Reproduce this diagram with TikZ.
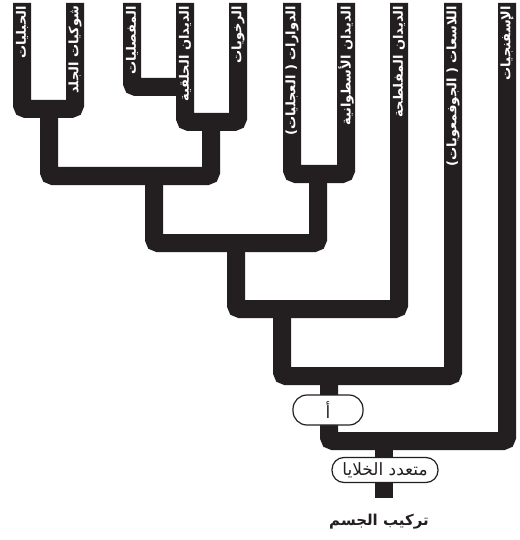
\documentclass[tikz,border=0pt]{standalone}
\usepackage{fontspec}
\usepackage{xcolor}
\usepackage{tikz}
\newfontfamily\arabicfont[Script=Arabic]{DejaVu Sans}
\TeXXeTstate=1
\definecolor{inkdark}{RGB}{35,31,32}

\begin{document}
\begin{tikzpicture}[x=1pt,y=-1pt,
  branch/.style={draw=inkdark,line width=18pt,rounded corners=4pt},
  taxon/.style={inner sep=0pt,outer sep=0pt,anchor=east,rotate=90,text=white,font=\arabicfont\bfseries\fontsize{13}{14}\selectfont},
  trait/.style={draw=inkdark,fill=white,line width=1.2pt,inner sep=0pt,text=inkdark,font=\arabicfont\fontsize{17}{18}\selectfont},
  caption/.style={inner sep=0pt,text=inkdark,font=\arabicfont\bfseries\fontsize{15}{16}\selectfont}]
\path[use as bounding box] (0,0) rectangle (519,540);
\path[fill=white,draw=none] (0,0) rectangle (519,540);
\coordinate (chordata) at (22,3);
\coordinate (echino) at (75,3);
\coordinate (arthro) at (132,3);
\coordinate (annelid) at (185,3);
\coordinate (mollusc) at (238,3);
\coordinate (rotifer) at (292,3);
\coordinate (nematode) at (346,3);
\coordinate (flatworm) at (399,3);
\coordinate (cnidaria) at (453,3);
\coordinate (sponge) at (507,3);
\coordinate (jDeut) at (49,109);
\coordinate (jArthro) at (185,87);
\coordinate (jProto) at (211,122);
\coordinate (jCoel) at (154,176);
\coordinate (jPseudo) at (318,174);
\coordinate (jCavity) at (236,243);
\coordinate (jBilat) at (282,309);
\coordinate (jTissue) at (329,376);
\coordinate (jMulti) at (384,441);
\coordinate (root) at (384,498);
\draw[branch] (chordata) |- (jDeut) -| (echino);
\draw[branch] (arthro) |- (jArthro);
\draw[branch] (annelid) |- (jProto) -| (mollusc);
\draw[branch] (jDeut) |- (jCoel) -| (jProto);
\draw[branch] (rotifer) |- (jPseudo) -| (nematode);
\draw[branch] (jCoel) |- (jCavity) -| (jPseudo);
\draw[branch] (jCavity) |- (jBilat) -| (flatworm);
\draw[branch] (jBilat) |- (jTissue) -| (cnidaria);
\draw[branch] (jTissue) |- (jMulti) -| (sponge);
\draw[branch] (jMulti) -- (root);
\node[taxon] (chordataL) at (22,6) {\beginR الحبليات\endR};
\node[taxon] (echinoL) at (75,6) {\beginR شوكيات الجلد\endR};
\node[taxon] (arthroL) at (132,6) {\beginR المفصليات\endR};
\node[taxon] (annelidL) at (185,6) {\beginR الديدان الحلقية\endR};
\node[taxon] (molluscL) at (238,6) {\beginR الرخويات\endR};
\node[taxon] (rotiferL) at (292,6) {\beginR الدوارات ( العجليات)\endR};
\node[taxon] (nematodeL) at (346,6) {\beginR الديدان الأسطوانية\endR};
\node[taxon] (flatwormL) at (399,6) {\beginR الديدان المفلطحة\endR};
\node[taxon] (cnidariaL) at (453,6) {\beginR اللاسعات ( الجوفمعويات)\endR};
\node[taxon] (spongeL) at (507,6) {\beginR الإسفنجيات\endR};
\node[trait,minimum width=70pt,minimum height=30pt,rounded corners=14pt] (tissue) at (328,410) {\beginR أ\endR};
\node[trait,minimum width=106pt,minimum height=25pt,rounded corners=12pt] (multicell) at (385,470) {\beginR متعدد الخلايا\endR};
\node[caption] (bodyplan) at (379,522) {\beginR تركيب الجسم\endR};
\end{tikzpicture}
\end{document}
